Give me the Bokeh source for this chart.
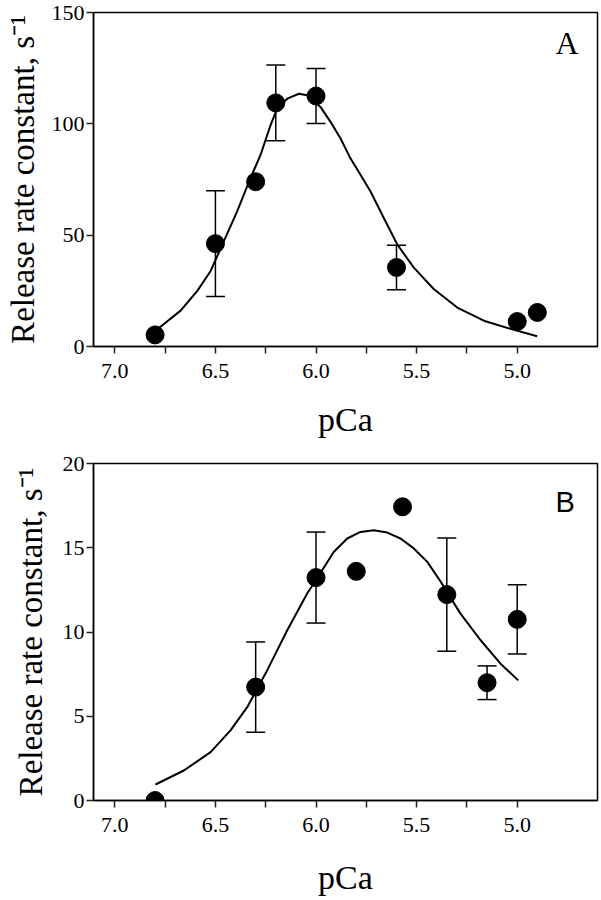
from bokeh.plotting import figure
from bokeh.models import (Range1d, FixedTicker, PrintfTickFormatter, Whisker,
                          ColumnDataSource, Label, TeeHead)
from bokeh.layouts import column
from bokeh.embed import file_html
from bokeh.resources import INLINE

# ---------------- data ----------------
x_major_ticks = [7.0, 6.5, 6.0, 5.5, 5.0]
x_minor_ticks = [6.75, 6.25, 5.75, 5.25]

# Panel A
a_yticks = [0, 50, 100, 150]
a_pca = [6.8, 6.5, 6.3, 6.2, 6.0, 5.6, 5.0, 4.9]
a_rate = [5.2, 46.2, 74.0, 109.4, 112.5, 35.5, 11.2, 15.3]
a_err_pca = [6.5, 6.2, 6.0, 5.6]
a_err_rate = [46.2, 109.4, 112.5, 35.5]
a_err_sem = [23.8, 17.0, 12.4, 10.0]
a_fit_pca = [6.79, 6.773, 6.673, 6.590, 6.524, 6.458, 6.392, 6.326, 6.276,
             6.226, 6.193, 6.143, 6.085, 6.044, 5.978, 5.928, 5.878, 5.829,
             5.779, 5.729, 5.663, 5.596, 5.514, 5.415, 5.298, 5.166, 5.033,
             4.901]
a_fit_rate = [7.8, 8.9, 16.1, 25.0, 33.9, 47.3, 60.7, 75.6, 86.0,
              99.4, 106.8, 111.3, 113.5, 112.8, 107.6, 100.9, 93.4, 84.5,
              77.1, 69.6, 57.7, 45.8, 35.4, 25.8, 17.5, 11.6, 7.9,
              4.6]

# Panel B
b_yticks = [0, 5, 10, 15, 20]
b_pca = [6.8, 6.3, 6.0, 5.8, 5.57, 5.35, 5.15, 5.0]
b_rate = [0.0, 6.73, 13.23, 13.6, 17.43, 12.22, 6.99, 10.75]
b_err_pca = [6.3, 6.0, 5.35, 5.15, 5.0]
b_err_rate = [6.73, 13.23, 12.22, 6.99, 10.75]
b_err_sem = [2.68, 2.70, 3.36, 1.0, 2.05]
b_fit_pca = [6.798, 6.657, 6.524, 6.425, 6.342, 6.243, 6.143, 6.044, 5.978,
             5.912, 5.845, 5.779, 5.713, 5.646, 5.580, 5.514, 5.447, 5.381,
             5.282, 5.182, 5.083, 4.995]
b_fit_rate = [0.95, 1.78, 2.87, 4.16, 5.54, 7.72, 10.10, 12.28, 13.5,
              14.75, 15.55, 15.94, 16.04, 15.9, 15.55, 14.96, 14.16, 13.0,
              11.09, 9.51, 8.12, 7.13]

y_label = "Release rate constant, s\u207b\u00b9"
x_label = "pCa"

SERIF = "Liberation Serif"


def make_panel(pca, rate, err_pca, err_rate, err_sem, fit_pca, fit_rate,
               yticks, ymax, frame_h, top, bottom, ylab_standoff,
               xlab_standoff, letter, letter_y, letter_font, letter_size):
    p = figure(frame_width=504, frame_height=frame_h,
               min_border_left=93, min_border_right=4,
               min_border_top=top, min_border_bottom=bottom,
               x_range=Range1d(7.106, 4.601), y_range=Range1d(0, ymax),
               output_backend="svg", toolbar_location=None,
               background_fill_color="white", border_fill_color="white")
    p.grid.visible = False
    p.outline_line_color = "black"
    p.outline_line_width = 1.5

    # x axis
    xa = p.xaxis[0]
    xa.ticker = FixedTicker(ticks=x_major_ticks, minor_ticks=x_minor_ticks)
    xa.formatter = PrintfTickFormatter(format="%.1f")
    xa.axis_label = x_label
    xa.axis_label_text_font = SERIF
    xa.axis_label_text_font_size = "34px"
    xa.axis_label_text_font_style = "normal"
    xa.axis_label_text_color = "black"
    xa.axis_label_standoff = xlab_standoff
    xa.major_label_text_font = SERIF
    xa.major_label_text_font_size = "22px"
    xa.major_label_text_color = "black"
    xa.major_label_standoff = 10
    xa.major_tick_in = 0
    xa.major_tick_out = 7
    xa.minor_tick_in = 0
    xa.minor_tick_out = 7
    xa.major_tick_line_width = 1.5
    xa.minor_tick_line_width = 1.5
    xa.major_tick_line_color = "#222222"
    xa.minor_tick_line_color = "#222222"
    xa.axis_line_width = 1.5
    xa.axis_line_color = "black"

    # y axis
    ya = p.yaxis[0]
    ya.ticker = FixedTicker(ticks=yticks)
    ya.axis_label = y_label
    ya.axis_label_text_font = SERIF
    ya.axis_label_text_font_size = "33px"
    ya.axis_label_text_font_style = "normal"
    ya.axis_label_text_color = "black"
    ya.axis_label_standoff = ylab_standoff
    ya.major_label_text_font = SERIF
    ya.major_label_text_font_size = "22px"
    ya.major_label_text_color = "black"
    ya.major_label_standoff = 2
    ya.major_tick_in = 0
    ya.major_tick_out = 7
    ya.major_tick_line_width = 1.5
    ya.major_tick_line_color = "#222222"
    ya.minor_tick_line_color = None
    ya.axis_line_width = 1.5
    ya.axis_line_color = "black"

    # fitted curve
    p.line(fit_pca, fit_rate, line_color="black", line_width=2,
           line_join="round")

    # error bars
    src = ColumnDataSource(dict(
        x=err_pca,
        upper=[r + s for r, s in zip(err_rate, err_sem)],
        lower=[r - s for r, s in zip(err_rate, err_sem)],
    ))
    p.add_layout(Whisker(source=src, base="x", upper="upper", lower="lower",
                         dimension="height", line_color="black",
                         line_width=1.5,
                         upper_head=TeeHead(size=19, line_width=1.5,
                                            line_color="black"),
                         lower_head=TeeHead(size=19, line_width=1.5,
                                            line_color="black")))

    # data points
    p.scatter(pca, rate, size=18, fill_color="black", line_color="black")

    p.add_layout(Label(x=4.81, y=letter_y, text=letter,
                       text_font=letter_font, text_font_size=letter_size,
                       text_color="black", text_align="left",
                       text_baseline="alphabetic"))
    return p


pA = make_panel(a_pca, a_rate, a_err_pca, a_err_rate, a_err_sem,
                a_fit_pca, a_fit_rate, a_yticks, 150, 334, 12, 100, 8, 20,
                "A", 136.5, SERIF, "32px")
pB = make_panel(b_pca, b_rate, b_err_pca, b_err_rate, b_err_sem,
                b_fit_pca, b_fit_rate, b_yticks, 20, 337, 17, 100, 11, 24,
                "B", 17.7, "Liberation Sans", "29px")

layout = column(pA, pB)
open("out.html", "w").write(file_html(layout, INLINE))
